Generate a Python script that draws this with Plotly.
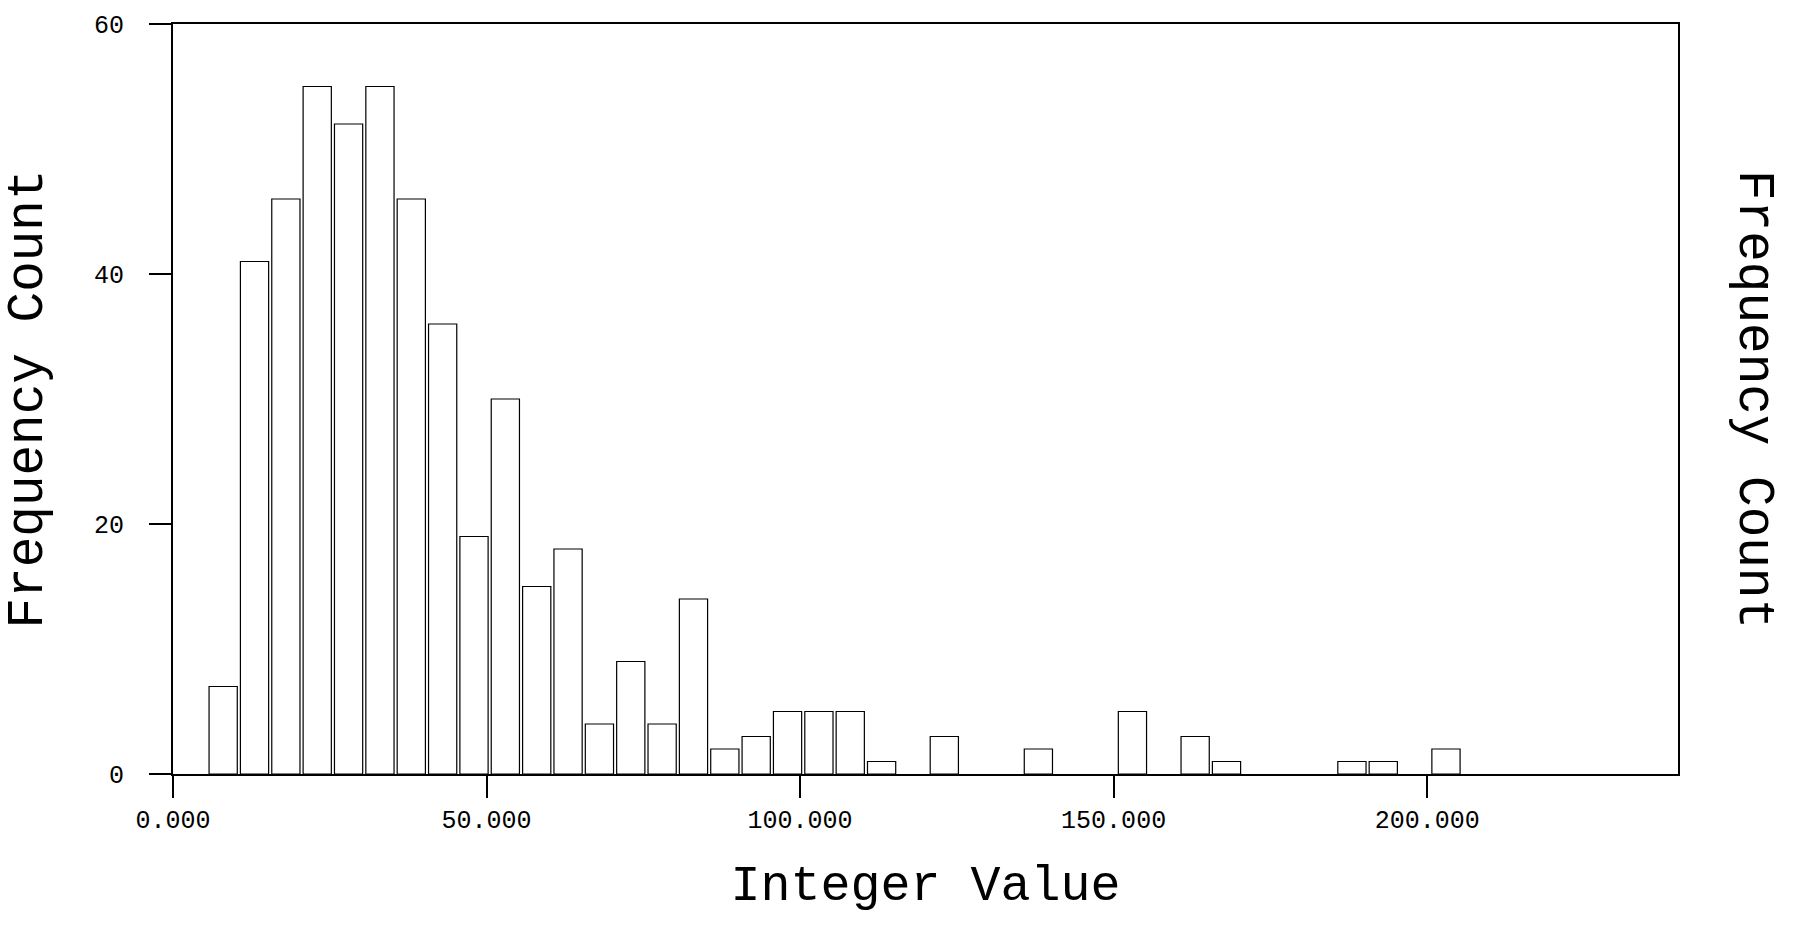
import plotly.graph_objects as go

# Bin centers (bins of width 5) and frequency counts
bin_centers = [8, 13, 18, 23, 28, 33, 38, 43, 48, 53, 58, 63, 68, 73, 78, 83, 88, 93, 98, 103,
               108, 113, 118, 123, 128, 133, 138, 143, 148, 153, 158, 163, 168, 173, 178, 183,
               188, 193, 198, 203]
counts = [7, 41, 46, 55, 52, 55, 46, 36, 19, 30, 15, 18, 4, 9, 4, 14, 2, 3, 5, 5,
          5, 1, 0, 3, 0, 0, 2, 0, 0, 5, 0, 3, 1, 0, 0, 0,
          1, 1, 0, 2]

x_ticks = [0, 50, 100, 150, 200]
y_ticks = [0, 20, 40, 60]

FONT = "Liberation Mono"

# empty bins draw no outline
outline_widths = [1.2 if c > 0 else 0 for c in counts]

fig = go.Figure()
fig.add_trace(go.Bar(
    x=bin_centers, y=counts, width=4.5,
    marker=dict(color="white", line=dict(color="black", width=outline_widths)),
    showlegend=False,
))

fig.update_layout(
    width=1798, height=927,
    margin=dict(l=173, r=120, t=21, b=153),
    paper_bgcolor="white", plot_bgcolor="white",
    font=dict(family=FONT, color="black"),
    xaxis=dict(
        range=[0, 240], tickvals=x_ticks, tickformat=".3f",
        ticks="outside", ticklen=22, tickwidth=1.5, tickcolor="black",
        showline=True, linecolor="black", linewidth=2, mirror=True,
        showgrid=False, zeroline=False,
        tickfont=dict(family=FONT, size=25, color="black"),
        ticklabelstandoff=0,
        title=dict(text="Integer Value", font=dict(family=FONT, size=50, color="black"),
                   standoff=30),
    ),
    yaxis=dict(
        range=[0, 60], tickvals=y_ticks,
        ticks="outside", ticklen=22, tickwidth=1.5, tickcolor="black",
        showline=True, linecolor="black", linewidth=2, mirror=True,
        showgrid=False, zeroline=False,
        tickfont=dict(family=FONT, size=25, color="black"),
        ticklabelstandoff=20,
        title=dict(text="Frequency Count", font=dict(family=FONT, size=51, color="black"),
                   standoff=38),
    ),
    annotations=[dict(
        text="Frequency Count", xref="paper", yref="paper",
        x=1.0505, y=0.5, xanchor="center", yanchor="middle",
        textangle=90, showarrow=False,
        font=dict(family=FONT, size=51, color="black"),
    )],
)

fig.write_html("out.html", config={"displayModeBar": False},
               post_script="document.body.style.margin='0';")
